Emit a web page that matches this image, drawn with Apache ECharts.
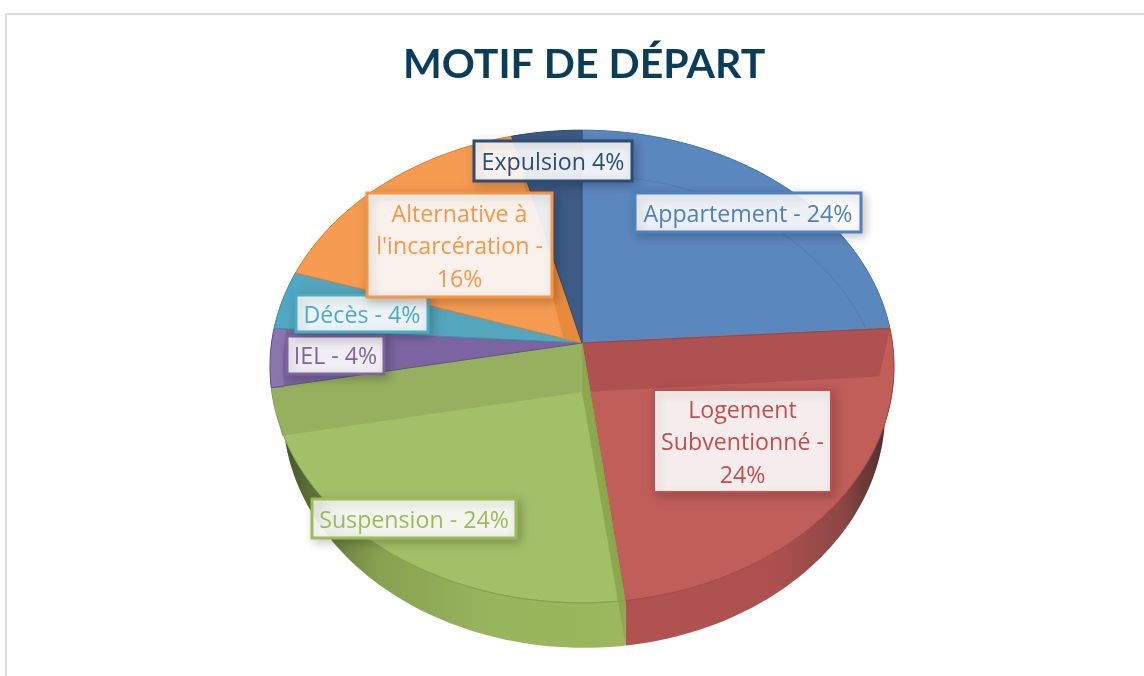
<!DOCTYPE html>
<html lang="fr">
<head>
    <meta charset="UTF-8">
    <title>Motif de départ</title>
    <style>
        html, body { margin: 0; padding: 0; background: #fff; }
        #chart { width: 1144px; height: 676px; }
    </style>
</head>
<body>
<div id="chart"></div>
<script src="https://cdn.jsdelivr.net/npm/echarts@6/dist/echarts.min.js"></script>
<script>
    var titleText = 'MOTIF DE DÉPART';
    var categories = ['Appartement', 'Logement Subventionné', 'Suspension', 'IEL', 'Décès', "Alternative à l'incarcération", 'Expulsion'];
    var percents = [24, 24, 24, 4, 4, 16, 4];
    var labelTexts = ['Appartement - 24%', 'Logement\nSubventionné -\n24%', 'Suspension - 24%', 'IEL - 4%', 'Décès - 4%', "Alternative à\nl'incarcération -\n16%", 'Expulsion 4%'];

    // couleurs
    var topColors = ['#5b87bf', '#c05e59', '#a3bf68', '#7b64a1', '#52a6bd', '#f59b52', '#3c5b85'];
    var edgeColors = ['#4a76ad', '#a5413e', '#86a34c', '#66508c', '#3f8ea3', '#e07f30', '#2f4a70'];
    var labelColors = ['#4f81bd', '#c0504d', '#9bbb59', '#8064a2', '#4bacc6', '#f79646', '#2c4d75'];
    // x, y, largeur, hauteur des étiquettes
    var labelBoxes = [[635, 193, 226, 39], [654, 390, 177, 102], [312, 499, 204, 39], [287, 336, 97, 38], [296, 295, 132, 37], [367, 193, 185, 104], [474, 141, 158, 40]];

    // projection du disque en perspective
    var cx = 582, cy = 343, ra = 310.5, rb = 234, persp = 0.0994;
    var depth = 45, bottomScale = 0.965, bottomShift = 2;

    function rimPoint(deg) {
        var t = deg * Math.PI / 180;
        var u = Math.sin(t), v = Math.cos(t);
        var s = 1 / (1 + persp * v);
        return [cx + ra * u * s, cy - rb * v * s];
    }
    function bottomPoint(deg) {
        var p = rimPoint(deg);
        return [cx + bottomShift + (p[0] - cx) * bottomScale, p[1] + depth];
    }
    function wallPoint(p) {
        return [cx + (p[0] - cx) * 0.965, p[1] + 48];
    }
    function arc(fn, from, to) {
        var pts = [], n = Math.max(2, Math.ceil(Math.abs(to - from) / 1.5));
        for (var i = 0; i <= n; i++) {
            pts.push(fn(from + (to - from) * i / n));
        }
        return pts;
    }
    function sliceAngles(index) {
        var total = percents.reduce(function (a, b) { return a + b; }, 0);
        var sum = 0;
        for (var i = 0; i < index; i++) sum += percents[i];
        return [sum / total * 360, (sum + percents[index]) / total * 360];
    }

    var wallFills = {
        1: new echarts.graphic.LinearGradient(0, 0, 1, 0, [
            { offset: 0, color: '#b05250' }, { offset: 0.55, color: '#ad5150' },
            { offset: 0.8, color: '#8e4745' }, { offset: 0.94, color: '#5a3433' }, { offset: 1, color: '#3a2625' }
        ]),
        2: new echarts.graphic.LinearGradient(0, 0, 1, 0, [
            { offset: 0, color: '#3a4624' }, { offset: 0.1, color: '#5a6c36' }, { offset: 0.3, color: '#87a051' },
            { offset: 0.6, color: '#98b45c' }, { offset: 1, color: '#9cb85e' }
        ])
    };

    function renderWall(params, api) {
        var i = params.dataIndex;
        var a = sliceAngles(i);
        var pts = arc(rimPoint, a[0], a[1]).concat(arc(bottomPoint, a[1], a[0]));
        return {
            type: 'polygon',
            shape: { points: pts },
            style: { fill: wallFills[i] || edgeColors[i], stroke: null }
        };
    }

    function band(points, fill) {
        return { type: 'polygon', shape: { points: points }, style: { fill: fill, stroke: null } };
    }

    function renderTop(params, api) {
        var i = params.dataIndex;
        var a = sliceAngles(i);
        var rim = arc(rimPoint, a[0], a[1]);
        var first = rimPoint(a[0]), last = rimPoint(a[1]);
        var center = [cx, cy];
        var lowCenter = [cx, cy + 49];
        var children = [band([center].concat(rim), topColors[i])];

        if (i === 0) {
            // arc du fond vu par transparence
            children.push({ type: 'polyline', shape: { points: arc(bottomPoint, a[0] + 8, a[1] - 12) }, style: { fill: null, stroke: '#4f7cb4', lineWidth: 1 } });
        }
        if (i === 1) {
            children.push(band([center, first, wallPoint(first), lowCenter], '#ae5150'));
        }
        if (i === 2) {
            children.push(band([center, last, wallPoint(last), lowCenter], '#96b05f'));
            children.push(band([center, first, bottomPoint(a[0]), lowCenter], '#8ba851'));
            children.push({ type: 'polyline', shape: { points: arc(rimPoint, a[0], a[1] - 28) }, style: { fill: null, stroke: '#86a34c', lineWidth: 1 } });
        }
        if (i === 3 || i === 4) {
            // liseré clair du bord
            var inner = arc(function (d) {
                var p = rimPoint(d);
                return [cx + (p[0] - cx) * 0.958, p[1]];
            }, a[1], a[0]);
            children.push(band(rim.concat(inner), i === 3 ? '#8b76ad' : '#4fa9c4'));
        }
        if (i === 5) {
            children.push({ type: 'polyline', shape: { points: arc(bottomPoint, a[0] + 25, a[1] - 30) }, style: { fill: null, stroke: '#ea8d45', lineWidth: 1 } });
            children.push(band([center, last, [cx - 19, cy - 6]], '#e88a3e'));
        }
        // bordure de la tranche
        children.push({
            type: 'polygon',
            shape: { points: [center].concat(rim) },
            style: { fill: null, stroke: edgeColors[i], lineWidth: 1 }
        });
        return { type: 'group', children: children };
    }

    function renderLabel(params, api) {
        var i = params.dataIndex;
        var b = labelBoxes[i];
        return {
            type: 'group',
            children: [{
                type: 'rect',
                shape: { x: b[0], y: b[1], width: b[2], height: b[3] },
                style: {
                    fill: 'rgba(255,255,255,0.9)', stroke: labelColors[i], lineWidth: i === 1 ? 2 : 3,
                    shadowBlur: 10, shadowOffsetX: 3, shadowOffsetY: 3, shadowColor: 'rgba(0,0,0,0.22)'
                }
            }, {
                type: 'text',
                style: {
                    x: b[0] + b[2] / 2,
                    y: b[1] + b[3] / 2 + 2.5,
                    text: labelTexts[i],
                    fill: labelColors[i],
                    font: '23.2px "Open Sans"',
                    lineHeight: 32.5,
                    align: 'center',
                    verticalAlign: 'middle'
                }
            }]
        };
    }

    var seriesData = percents.map(function (v, i) {
        return { name: categories[i], value: [i, v] };
    });

    var myChart = echarts.init(document.getElementById('chart'));
    myChart.setOption({
        animation: false,
        title: {
            text: titleText,
            left: 398,
            top: 39,
            textStyle: { fontFamily: 'Lato', fontWeight: 'bold', fontSize: 41, color: '#0b3d5a' }
        },
        graphic: [
            { type: 'rect', shape: { x: 5, y: 13, width: 1139, height: 2 }, style: { fill: '#dcdcdc' } },
            { type: 'rect', shape: { x: 5, y: 13, width: 2, height: 663 }, style: { fill: '#dcdcdc' } }
        ],
        series: [
            { type: 'custom', coordinateSystem: 'none', z: 2, renderItem: renderWall, data: seriesData },
            { type: 'custom', coordinateSystem: 'none', z: 3, renderItem: renderTop, data: seriesData },
            { type: 'custom', coordinateSystem: 'none', z: 4, renderItem: renderLabel, data: seriesData }
        ]
    });
</script>
</body>
</html>
